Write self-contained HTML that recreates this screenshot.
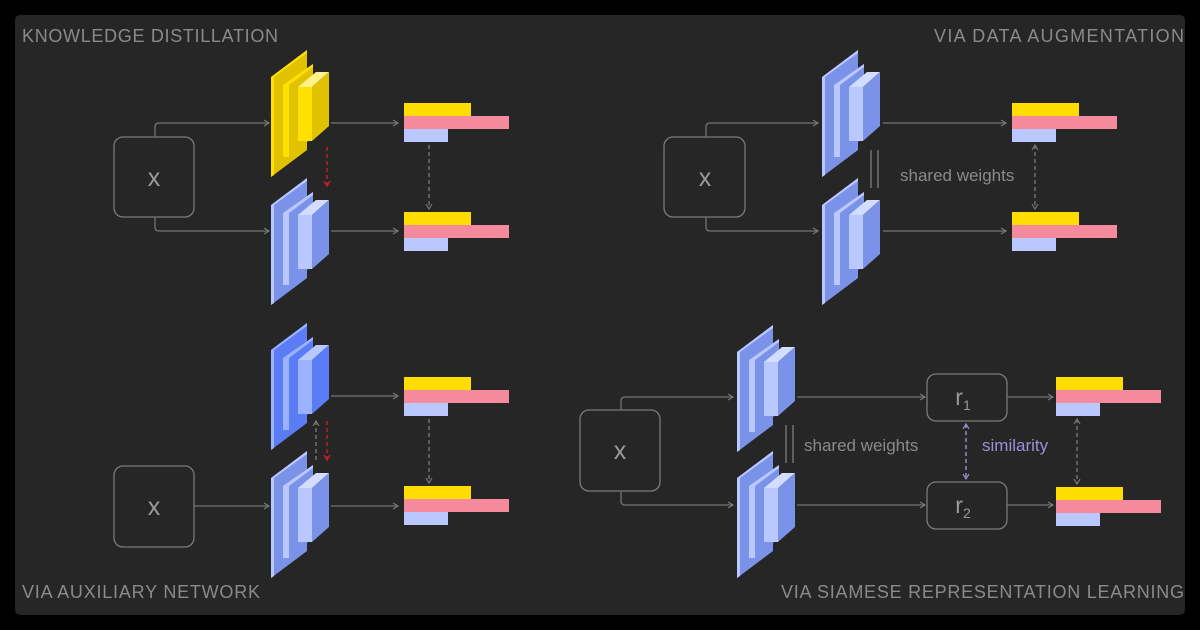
<!DOCTYPE html>
<html><head><meta charset="utf-8"><style>
html,body{margin:0;padding:0;background:#000;}
svg{display:block}
text{font-family:"Liberation Sans",sans-serif;}
</style></head><body>
<svg width="1200" height="630" viewBox="0 0 1200 630" xmlns="http://www.w3.org/2000/svg">
<defs>
<g id="blk">
  <polygon points="0,27 36,0 36,100 0,127" fill="var(--d)"/>
  <polygon points="0,27 36,0 36,3 3,27 3,125 0,127" fill="var(--l)"/>
  <polygon points="12,35 42,14 42,88 12,107" fill="var(--d)"/>
  <polygon points="12,35 42,14 42,17 18,35" fill="var(--l)"/>
  <rect x="12" y="35" width="6" height="72" fill="var(--l)"/>
  <rect x="27" y="37" width="14" height="54" fill="var(--l)"/>
  <polygon points="27,37 45,22 58,22 41,37" fill="var(--ll)"/>
  <polygon points="41,37 58,22 58,76 41,91" fill="var(--d)"/>
</g>
<g id="bars">
  <rect x="0" y="0" width="67" height="13" fill="#ffdd00"/>
  <rect x="0" y="13" width="105" height="13" fill="#f48a9b"/>
  <rect x="0" y="26" width="44" height="13" fill="#bac8ff"/>
</g>
<marker id="ah" markerWidth="8" markerHeight="8" refX="6" refY="4" orient="auto" markerUnits="userSpaceOnUse">
  <path d="M1,1 L6,4 L1,7" fill="none" stroke="#777" stroke-width="1.2"/>
</marker>
<marker id="ahs" markerWidth="8" markerHeight="8" refX="6" refY="4" orient="auto-start-reverse" markerUnits="userSpaceOnUse">
  <path d="M1,1 L6,4 L1,7" fill="none" stroke="#777" stroke-width="1.2"/>
</marker>
<marker id="ahr" markerWidth="8" markerHeight="8" refX="6" refY="4" orient="auto" markerUnits="userSpaceOnUse">
  <path d="M1,1 L6,4 L1,7" fill="none" stroke="#c0222a" stroke-width="1.4"/>
</marker>
<marker id="ahp" markerWidth="8" markerHeight="8" refX="6" refY="4" orient="auto-start-reverse" markerUnits="userSpaceOnUse">
  <path d="M1,1 L6,4 L1,7" fill="none" stroke="#9d8fd8" stroke-width="1.2"/>
</marker>
</defs>
<rect x="15" y="15" width="1170" height="600" rx="5" fill="#262626"/>

<g fill="#8a8a8a" font-size="18">
<text x="22" y="42" textLength="256">KNOWLEDGE DISTILLATION</text>
<text x="934" y="42" textLength="250">VIA DATA AUGMENTATION</text>
<text x="22" y="598" textLength="238">VIA AUXILIARY NETWORK</text>
<text x="781" y="598" textLength="403">VIA SIAMESE REPRESENTATION LEARNING</text>
</g>

<g fill="none" stroke="#7a7a7a" stroke-width="1.3">
<rect x="114" y="137" width="80" height="80" rx="9"/>
<rect x="664" y="137" width="81" height="80" rx="9"/>
<rect x="114" y="466" width="80" height="81" rx="9"/>
<rect x="580" y="410" width="80" height="81" rx="9"/>
<rect x="927" y="374" width="80" height="47" rx="9"/>
<rect x="927" y="482" width="80" height="47" rx="9"/>
</g>
<g fill="#9a9a9a" font-size="25" text-anchor="middle">
<text x="154" y="186">x</text>
<text x="705" y="186">x</text>
<text x="154" y="515">x</text>
<text x="620" y="459">x</text>
<text x="963" y="405" font-size="23">r<tspan font-size="14" dy="5">1</tspan></text>
<text x="963" y="513" font-size="23">r<tspan font-size="14" dy="5">2</tspan></text>
</g>

<g fill="none" stroke="#747474" stroke-width="1.3" marker-end="url(#ah)">
<path d="M155,137 V127 Q155,123 159,123 H269"/>
<path d="M155,217 V227 Q155,231 159,231 H269"/>
<path d="M331,123 H398"/><path d="M331,231 H398"/>
<path d="M706,137 V127 Q706,123 710,123 H818"/>
<path d="M706,217 V227 Q706,231 710,231 H818"/>
<path d="M883,123 H1006"/><path d="M883,231 H1006"/>
<path d="M194,506 H269"/>
<path d="M331,396 H398"/><path d="M331,506 H398"/>
<path d="M621,410 V401 Q621,397 625,397 H733"/>
<path d="M621,491 V501 Q621,505 625,505 H733"/>
<path d="M797,397 H925"/><path d="M797,505 H925"/>
<path d="M1007,397 H1053"/><path d="M1007,505 H1053"/>
</g>

<g style="--d:#e0c200;--l:#ffe000;--ll:#fff08a"><use href="#blk" x="271" y="50"/></g>
<g style="--d:#7a93e8;--l:#b9c8ff;--ll:#d3ddff">
<use href="#blk" x="271" y="178"/>
<use href="#blk" x="822" y="50"/><use href="#blk" x="822" y="178"/>
<use href="#blk" x="271" y="451"/>
<use href="#blk" x="737" y="325"/><use href="#blk" x="737" y="451"/>
</g>
<g style="--d:#5a7cf5;--l:#9bb2ff;--ll:#b9c8ff"><use href="#blk" x="271" y="323"/></g>

<use href="#bars" x="404" y="103"/><use href="#bars" x="404" y="212"/>
<use href="#bars" x="1012" y="103"/><use href="#bars" x="1012" y="212"/>
<use href="#bars" x="404" y="377"/><use href="#bars" x="404" y="486"/>
<use href="#bars" x="1056" y="377"/><use href="#bars" x="1056" y="487"/>

<g fill="none" stroke-width="1.4" stroke-dasharray="4,3">
<path d="M429,145 V209" stroke="#777" marker-end="url(#ah)"/>
<path d="M327,147 V186" stroke="#c0222a" marker-end="url(#ahr)"/>
<path d="M1035,145 V209" stroke="#777" marker-start="url(#ahs)" marker-end="url(#ahs)"/>
<path d="M429,419 V483" stroke="#777" marker-end="url(#ah)"/>
<path d="M316,460 V421" stroke="#777" marker-end="url(#ah)"/>
<path d="M327,421 V460" stroke="#c0222a" marker-end="url(#ahr)"/>
<path d="M966,424 V479" stroke="#9d8fd8" marker-start="url(#ahp)" marker-end="url(#ahp)"/>
<path d="M1077,419 V484" stroke="#777" marker-start="url(#ahs)" marker-end="url(#ahs)"/>
</g>

<g stroke="#777" stroke-width="1.4">
<line x1="871" y1="150" x2="871" y2="188"/><line x1="878" y1="150" x2="878" y2="188"/>
<line x1="786" y1="425" x2="786" y2="463"/><line x1="793" y1="425" x2="793" y2="463"/>
</g>
<text x="900" y="181" fill="#8a8a8a" font-size="17">shared weights</text>
<text x="804" y="451" fill="#8a8a8a" font-size="17">shared weights</text>
<text x="982" y="451" fill="#9d8fd8" font-size="17">similarity</text>
</svg>
</body></html>
